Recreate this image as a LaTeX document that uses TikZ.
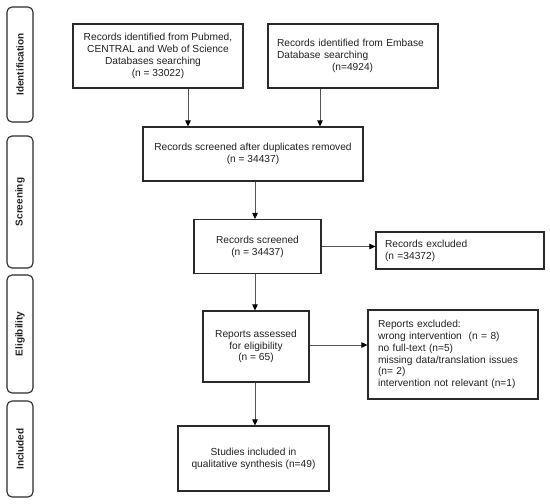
\documentclass[tikz,border=0pt]{standalone}
\usepackage{fontspec}
\setmainfont{Liberation Sans}
\usetikzlibrary{arrows.meta}
\definecolor{txt}{HTML}{222222}
\definecolor{bord}{HTML}{2A2A2A}
\definecolor{arrline}{HTML}{555555}
\begin{document}
\begin{tikzpicture}[x=1pt,y=-1pt,
  every node/.style={font=\fontsize{10.2pt}{11.8pt}\selectfont, text=txt},
  box/.style={draw=bord, line width=1.1pt, inner sep=0pt, rectangle},
  phase/.style={draw=bord, line width=1.1pt, rounded corners=5pt, inner sep=0pt,
     minimum width=26pt, font=\bfseries\fontsize{10pt}{12pt}\selectfont},
  arr/.style={draw=arrline, line width=0.8pt, -{Triangle[width=5.5pt,length=6pt,color=black,fill=black]}}
]
\useasboundingbox (0,0) rectangle (550,504);
\fill[white] (0,0) rectangle (550,504);

% phase labels
\node[phase, minimum height=115pt] (pid) at (20,64.5) {};
\node[rotate=90, font=\bfseries\fontsize{10pt}{12pt}\selectfont] (pidt) at (pid.center) {Identification};
\node[phase, minimum height=132pt] (psc) at (20,202) {};
\node[rotate=90, font=\bfseries\fontsize{10pt}{12pt}\selectfont] (psct) at (psc.center) {Screening};
\node[phase, minimum height=118pt] (pel) at (20,334) {};
\node[rotate=90, font=\bfseries\fontsize{10pt}{12pt}\selectfont] (pelt) at (pel.center) {Eligibility};
\node[phase, minimum height=96pt] (pin) at (20,449) {};
\node[rotate=90, font=\bfseries\fontsize{10pt}{12pt}\selectfont] (pint) at (pin.center) {Included};

% boxes
\node[box, minimum width=170pt, minimum height=64pt, align=center] (b1) at (158,56)
  {Records identified from Pubmed,\\CENTRAL and Web of Science\\\hspace*{-10pt}Databases searching\\(n = 33022)};
\node[box, minimum width=170pt, minimum height=64pt, text width=152pt, align=left] (b2) at (353,56)
  {Records identified from Embase\\Database searching\\\hspace*{55pt}(n=4924)};
\node[box, minimum width=220pt, minimum height=54pt, align=center] (b3) at (253,154)
  {Records screened after duplicates removed\\(n = 34437)};
\node[box, minimum width=127pt, minimum height=54pt, align=center] (b4) at (257.5,246.5)
  {Records screened\\(n = 34437)};
\node[box, minimum width=168pt, minimum height=37pt, text width=150pt, align=left] (b5) at (460,250.5)
  {Records excluded\\(n =34372)};
\node[box, minimum width=106pt, minimum height=71pt, align=center] (b6) at (256,346.5)
  {Reports assessed\\for eligibility\\(n = 65)};
\node[box, minimum width=170pt, minimum height=89pt, text width=150pt, align=left] (b7) at (453,354.5)
  {Reports excluded:\\wrong intervention~~(n = 8)\\no full-text (n=5)\\missing data/translation issues\\(n= 2)\\intervention not relevant (n=1)};
\node[box, minimum width=151pt, minimum height=65pt, align=center] (b8) at (253.5,458.5)
  {Studies included in\\qualitative synthesis (n=49)};

% connectors
\draw[arr] ([xshift=30pt]b1.south) -- ([xshift=30pt]b1.south |- b3.north);
\draw[arr] ([xshift=-33pt]b2.south) -- ([xshift=-33pt]b2.south |- b3.north);
\draw[arr] ([xshift=2pt]b3.south) -- ([xshift=2pt]b3.south |- b4.north);
\draw[arr] (b4.east) -- (b4.east -| b5.west);
\draw[arr] ([xshift=-1pt]b6.north |- b4.south) -- ([xshift=-1pt]b6.north);
\draw[arr] ([yshift=1.5pt]b6.east) -- ([yshift=1.5pt]b6.east -| b7.west);
\draw[arr] ([xshift=-1pt]b6.south) -- ([xshift=-1pt]b6.south |- b8.north);
\end{tikzpicture}
\end{document}
